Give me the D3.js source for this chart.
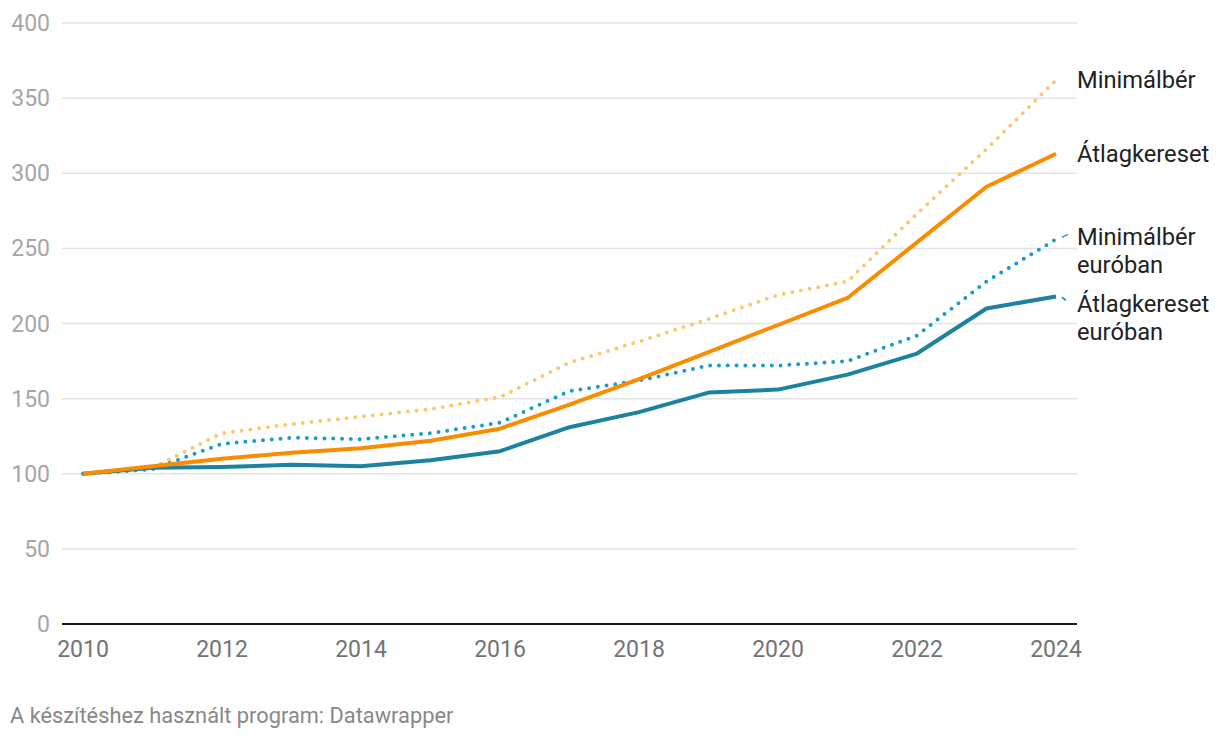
<!DOCTYPE html>
<html>
<head>
<meta charset="utf-8">
<script src="https://cdn.jsdelivr.net/npm/d3@7"></script>
<style>
  html, body { margin: 0; padding: 0; background: #fff; }
  svg text { font-family: Roboto, "Noto Sans", sans-serif; }
</style>
</head>
<body>
<svg id="chart" width="1220" height="740"></svg>
<script>
const years = [2010, 2011, 2012, 2013, 2014, 2015, 2016, 2017, 2018, 2019, 2020, 2021, 2022, 2023, 2024];
const minimalber = [100, 104, 127, 133, 138, 143, 151, 174, 188, 203, 219, 228, 273, 316, 362];
const atlagkereset = [100, 105, 110, 114, 117, 122, 130, 146, 163, 181, 199, 217, 254, 291, 313];
const minimalberEur = [100, 103, 120, 124, 123, 127, 134, 155, 162, 172, 172, 175, 192, 228, 256];
const atlagkeresetEur = [100, 104, 104.5, 106, 105, 109, 115, 131, 141, 154, 156, 166, 180, 210, 218];
const yTicks = [0, 50, 100, 150, 200, 250, 300, 350, 400];
const xTicks = [2010, 2012, 2014, 2016, 2018, 2020, 2022, 2024];
const seriesNames = ["Minimálbér", "Átlagkereset", "Minimálbér euróban", "Átlagkereset euróban"];
const footerText = "A készítéshez használt program: Datawrapper";

const svg = d3.select("#chart");
const x = d3.scaleLinear().domain([2010, 2024]).range([83, 1056]);
const y = d3.scaleLinear().domain([0, 400]).range([624, 23]);

// gridlines
const grid = svg.append("g");
grid.selectAll("line").data(yTicks.filter(d => d > 0)).join("line")
  .attr("x1", 62).attr("x2", 1077)
  .attr("y1", d => y(d)).attr("y2", d => y(d))
  .attr("stroke", "#e3e3e3").attr("stroke-width", 1.5);

// y tick labels
svg.append("g").selectAll("text").data(yTicks).join("text")
  .attr("x", 50).attr("y", d => y(d)).attr("dy", "0.35em")
  .attr("text-anchor", "end")
  .attr("fill", "#a6a6a6").attr("font-size", 23)
  .text(d => d);

// baseline
svg.append("line").attr("x1", 62).attr("x2", 1077)
  .attr("y1", y(0)).attr("y2", y(0))
  .attr("stroke", "#1a1a1a").attr("stroke-width", 2);

// x tick labels
svg.append("g").selectAll("text").data(xTicks).join("text")
  .attr("x", d => x(d)).attr("y", 657)
  .attr("text-anchor", "middle")
  .attr("fill", "#737373").attr("font-size", 23)
  .text(d => d);

const line = d3.line().x((d, i) => x(years[i])).y(d => y(d));

const series = [
  { vals: minimalber, color: "#fdc86d", dotted: true },
  { vals: minimalberEur, color: "#1b9dcc", dotted: true },
  { vals: atlagkeresetEur, color: "#1c82a0", dotted: false },
  { vals: atlagkereset, color: "#fb8c00", dotted: false }
];

svg.append("g").selectAll("path").data(series).join("path")
  .attr("d", d => line(d.vals))
  .attr("fill", "none")
  .attr("stroke", d => d.color)
  .attr("stroke-width", d => d.dotted ? 4 : 4)
  .attr("stroke-linecap", d => d.dotted ? "round" : "butt")
  .attr("stroke-linejoin", "round")
  .attr("stroke-dasharray", d => d.dotted ? "0,8.8" : null);

// labels
const lx = 1077;
const labels = [
  { lines: ["Minimálbér"], y0: 88 },
  { lines: ["Átlagkereset"], y0: 162 },
  { lines: ["Minimálbér", "euróban"], y0: 245 },
  { lines: ["Átlagkereset", "euróban"], y0: 312 }
];
const lg = svg.append("g");
labels.forEach(l => {
  const t = lg.append("text").attr("x", lx).attr("y", l.y0)
    .attr("fill", "#222").attr("font-size", 23.7);
  l.lines.forEach((s, i) => {
    t.append("tspan").attr("x", lx).attr("dy", i === 0 ? 0 : 28).text(s);
  });
});

// connectors for euro labels
svg.append("line").attr("x1", x(2024) + 6).attr("x2", x(2024) + 12)
  .attr("y1", y(minimalberEur[14]) - 2).attr("y2", y(minimalberEur[14]) - 5)
  .attr("stroke", "#1b9dcc").attr("stroke-width", 1.5);
svg.append("line").attr("x1", x(2024) + 6).attr("x2", x(2024) + 10)
  .attr("y1", y(atlagkeresetEur[14]) + 1).attr("y2", y(atlagkeresetEur[14]) + 4)
  .attr("stroke", "#1c82a0").attr("stroke-width", 1.5);

// footer
svg.append("text").attr("x", 10).attr("y", 723)
  .attr("fill", "#888").attr("font-size", 21.8)
  .text(footerText);
</script>
</body>
</html>
